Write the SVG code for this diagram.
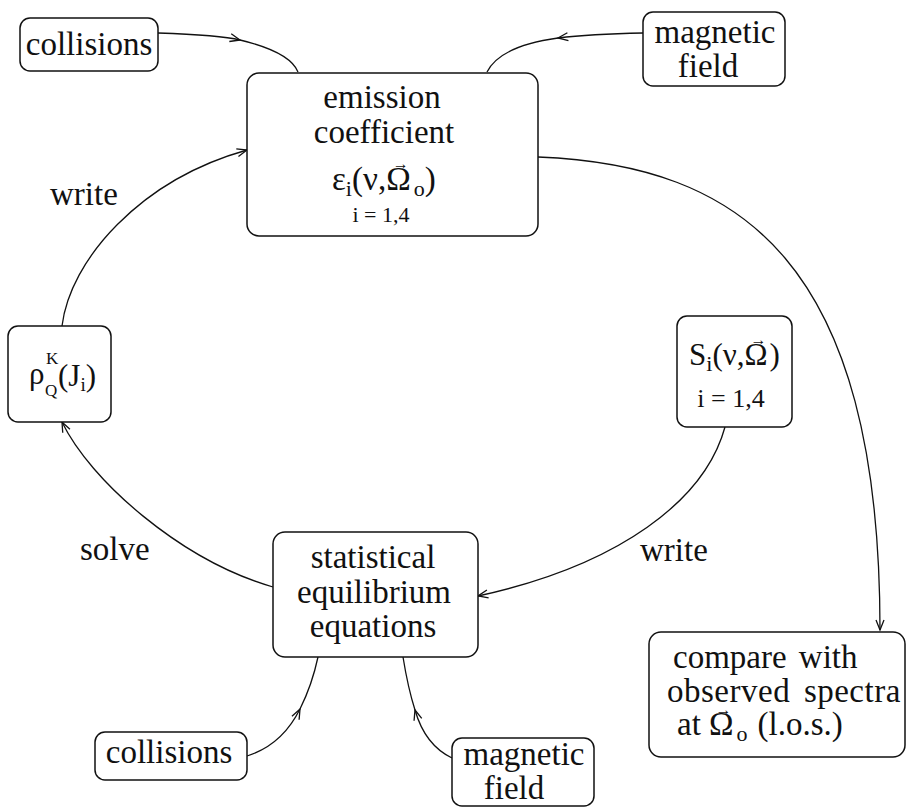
<svg xmlns="http://www.w3.org/2000/svg" width="907" height="807" viewBox="0 0 907 807">
<defs>
<style>
.box{fill:#fff;stroke:#111;stroke-width:1.5}
.c{fill:none;stroke:#111;stroke-width:1.3}
text{font-family:'Liberation Serif','Times New Roman',serif;font-size:33px;fill:#111}
.m{text-anchor:middle}
.s{font-size:22px}
.v{font-size:16px}
</style>
<marker id="ah" markerUnits="userSpaceOnUse" markerWidth="20" markerHeight="20" refX="0" refY="0" viewBox="-12 -10 14 20" orient="auto" overflow="visible">
<path d="M-10,-4 L0,0 L-10,4" fill="none" stroke="#111" stroke-width="1.3"/>
</marker>
</defs>
<rect width="907" height="807" fill="#fff"/>
<g id="connectors">
<path class="c" d="M158,33 Q220,35 240,40 Q290,52 298,72" marker-mid="url(#ah)"/>
<path class="c" d="M643,33 Q590,34 558,38 Q500,46 487,72" marker-mid="url(#ah)"/>
<path class="c" d="M62,326 C70,260 140,180 247,150" marker-end="url(#ah)"/>
<path class="c" d="M273,587 C180,560 90,480 62,422" marker-end="url(#ah)"/>
<path class="c" d="M725,427 C705,500 620,565 478,596" marker-end="url(#ah)"/>
<path class="c" d="M538,157 C740,165 880,260 880,630" marker-end="url(#ah)"/>
<path class="c" d="M247,756 Q282,745 300,709 Q312,685 318,657" marker-mid="url(#ah)"/>
<path class="c" d="M452,758 Q425,745 415,710 Q408,688 403,657" marker-mid="url(#ah)"/>
</g>
<g id="labels">
<text x="50" y="205">write</text>
<text x="80" y="560">solve</text>
<text x="640" y="561">write</text>
</g>
<g id="collisions-top">
<rect class="box" x="20" y="18" width="138" height="53" rx="10"/>
<text class="m" x="89" y="55">collisions</text>
</g>
<g id="magnetic-top">
<rect class="box" x="643" y="12" width="142" height="74" rx="10"/>
<text class="m" x="715" y="43">magnetic</text>
<text class="m" x="708" y="77">field</text>
</g>
<g id="emission">
<rect class="box" x="247" y="73" width="291" height="163" rx="12"/>
<text class="m" x="382" y="108">emission</text>
<text class="m" x="384" y="143">coefficient</text>
<text x="332" y="190">ε<tspan class="s" dy="6">i</tspan><tspan dy="-6">(ν,Ω</tspan><tspan class="v" dx="-18" dy="-21">→</tspan><tspan class="s" dx="5" dy="27">o</tspan><tspan dy="-6">)</tspan></text>
<text class="m s" x="381" y="222">i = 1,4</text>
</g>
<g id="rho">
<rect class="box" x="8" y="326" width="103" height="96" rx="10"/>
<text x="29" y="384" style="font-size:31px">ρ</text>
<text x="46" y="364" style="font-size:17px">K</text>
<text x="45" y="396" style="font-size:17px">Q</text>
<text x="58" y="386" style="font-size:31px">(J<tspan style="font-size:19px" dy="5">i</tspan><tspan dy="-5">)</tspan></text>
</g>
<g id="source">
<rect class="box" x="677" y="316" width="115" height="111" rx="10"/>
<text x="689" y="365" style="font-size:31px">S<tspan class="s" dy="6">i</tspan><tspan dy="-6">(ν,Ω</tspan><tspan class="v" dx="-17" dy="-20">→</tspan><tspan dx="3" dy="20">)</tspan></text>
<text class="m" x="731" y="407" style="font-size:26px">i = 1,4</text>
</g>
<g id="statistical">
<rect class="box" x="273" y="532" width="205" height="125" rx="12"/>
<text class="m" x="373" y="568">statistical</text>
<text class="m" x="374" y="603">equilibrium</text>
<text class="m" x="373" y="637">equations</text>
</g>
<g id="compare">
<rect class="box" x="649" y="632" width="256" height="125" rx="12"/>
<text x="673" y="668" word-spacing="4">compare with</text>
<text x="667" y="702" word-spacing="5" letter-spacing="0.5">observed spectra</text>
<text x="677" y="735">at Ω<tspan class="v" dx="-18" dy="-20">→</tspan><tspan class="s" dx="5" dy="26">o</tspan><tspan dy="-6" dx="10">(l.o.s.)</tspan></text>
</g>
<g id="collisions-bottom">
<rect class="box" x="95" y="732" width="152" height="48" rx="10"/>
<text class="m" x="169" y="763">collisions</text>
</g>
<g id="magnetic-bottom">
<rect class="box" x="452" y="738" width="142" height="68" rx="10"/>
<text class="m" x="524" y="765">magnetic</text>
<text class="m" x="514" y="799">field</text>
</g>
</svg>
